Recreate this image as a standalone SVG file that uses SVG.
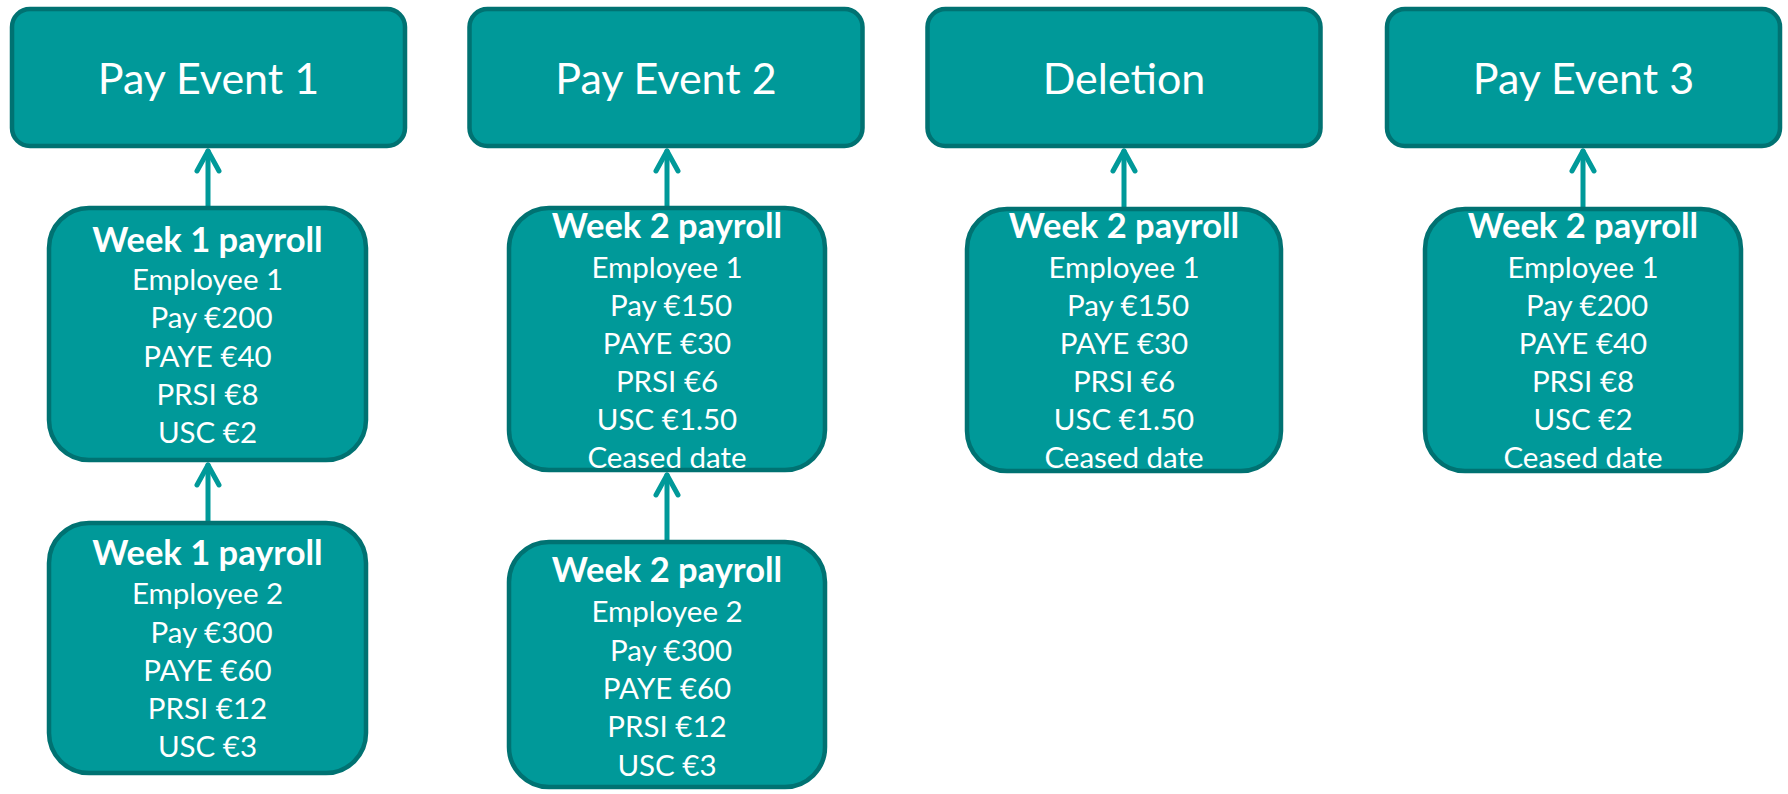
<svg xmlns="http://www.w3.org/2000/svg" width="1788" height="794" viewBox="0 0 1788 794">
<style>
.box{fill:#009999;stroke:#007272;stroke-width:4.5}
.hd{font-family:Lato,"Open Sans","Liberation Sans",sans-serif;font-size:43px;fill:#fff;text-anchor:middle}
.tt{font-family:Lato,"Open Sans","Liberation Sans",sans-serif;font-size:34.5px;font-weight:bold;fill:#fff;text-anchor:middle}
.bd{font-family:Lato,"Open Sans","Liberation Sans",sans-serif;font-size:29.5px;fill:#fff;text-anchor:middle}
.conn{stroke:#009999;stroke-width:5;fill:none;stroke-linecap:round}
</style>
<defs>
<marker id="arr" markerUnits="userSpaceOnUse" markerWidth="30" markerHeight="30" viewBox="-24 -15 30 30" refX="0" refY="0" orient="auto">
<path d="M-20 -11 L0 0 L-20 11" fill="none" stroke="#009999" stroke-width="5" stroke-linecap="round" stroke-linejoin="round"/>
</marker>
</defs>
<rect width="1788" height="794" fill="#fff"/>
<g id="connectors">
<path class="conn" d="M208 206 V151" marker-end="url(#arr)"/>
<path class="conn" d="M208 521 V465" marker-end="url(#arr)"/>
<path class="conn" d="M667 206 V151" marker-end="url(#arr)"/>
<path class="conn" d="M667 540 V475" marker-end="url(#arr)"/>
<path class="conn" d="M1124 207 V151" marker-end="url(#arr)"/>
<path class="conn" d="M1583 207 V151" marker-end="url(#arr)"/>
</g>
<g id="pay-event-1">
<rect class="box" x="12" y="9" width="393" height="137" rx="18"/>
<text class="hd" x="208.5" y="94">Pay Event 1</text>
</g>
<g id="pay-event-2">
<rect class="box" x="469.5" y="9" width="393" height="137" rx="18"/>
<text class="hd" x="666" y="94">Pay Event 2</text>
</g>
<g id="deletion">
<rect class="box" x="927.5" y="9" width="393" height="137" rx="18"/>
<text class="hd" x="1124" y="94">Deletion</text>
</g>
<g id="pay-event-3">
<rect class="box" x="1387" y="9" width="393" height="137" rx="18"/>
<text class="hd" x="1583.5" y="94">Pay Event 3</text>
</g>
<g id="w1-emp1">
<rect class="box" x="49" y="208" width="317" height="252" rx="40"/>
<text class="tt" x="207.5" y="252">Week 1 payroll</text>
<text class="bd" x="207.5" y="290">Employee 1</text>
<text class="bd" x="211.5" y="328">Pay €200</text>
<text class="bd" x="207.5" y="367">PAYE €40</text>
<text class="bd" x="207.5" y="405">PRSI €8</text>
<text class="bd" x="207.5" y="443">USC €2</text>
</g>
<g id="w1-emp2">
<rect class="box" x="49" y="523" width="317" height="250" rx="40"/>
<text class="tt" x="207.5" y="565">Week 1 payroll</text>
<text class="bd" x="207.5" y="604">Employee 2</text>
<text class="bd" x="211.5" y="643">Pay €300</text>
<text class="bd" x="207.5" y="681">PAYE €60</text>
<text class="bd" x="207.5" y="719">PRSI €12</text>
<text class="bd" x="207.5" y="757">USC €3</text>
</g>
<g id="w2-emp1">
<rect class="box" x="509" y="208" width="316" height="262" rx="40"/>
<text class="tt" x="667" y="238">Week 2 payroll</text>
<text class="bd" x="667" y="278">Employee 1</text>
<text class="bd" x="671" y="316">Pay €150</text>
<text class="bd" x="667" y="354">PAYE €30</text>
<text class="bd" x="667" y="392">PRSI €6</text>
<text class="bd" x="667" y="430">USC €1.50</text>
<text class="bd" x="667" y="468">Ceased date</text>
</g>
<g id="w2-emp2">
<rect class="box" x="509" y="542" width="316" height="245" rx="40"/>
<text class="tt" x="667" y="582">Week 2 payroll</text>
<text class="bd" x="667" y="622">Employee 2</text>
<text class="bd" x="671" y="661">Pay €300</text>
<text class="bd" x="667" y="699">PAYE €60</text>
<text class="bd" x="667" y="737">PRSI €12</text>
<text class="bd" x="667" y="776">USC €3</text>
</g>
<g id="deletion-emp1">
<rect class="box" x="967" y="209" width="314" height="262" rx="40"/>
<text class="tt" x="1124" y="238">Week 2 payroll</text>
<text class="bd" x="1124" y="278">Employee 1</text>
<text class="bd" x="1128" y="316">Pay €150</text>
<text class="bd" x="1124" y="354">PAYE €30</text>
<text class="bd" x="1124" y="392">PRSI €6</text>
<text class="bd" x="1124" y="430">USC €1.50</text>
<text class="bd" x="1124" y="468">Ceased date</text>
</g>
<g id="pe3-emp1">
<rect class="box" x="1425" y="209" width="316" height="262" rx="40"/>
<text class="tt" x="1583" y="238">Week 2 payroll</text>
<text class="bd" x="1583" y="278">Employee 1</text>
<text class="bd" x="1587" y="316">Pay €200</text>
<text class="bd" x="1583" y="354">PAYE €40</text>
<text class="bd" x="1583" y="392">PRSI €8</text>
<text class="bd" x="1583" y="430">USC €2</text>
<text class="bd" x="1583" y="468">Ceased date</text>
</g>
</svg>
